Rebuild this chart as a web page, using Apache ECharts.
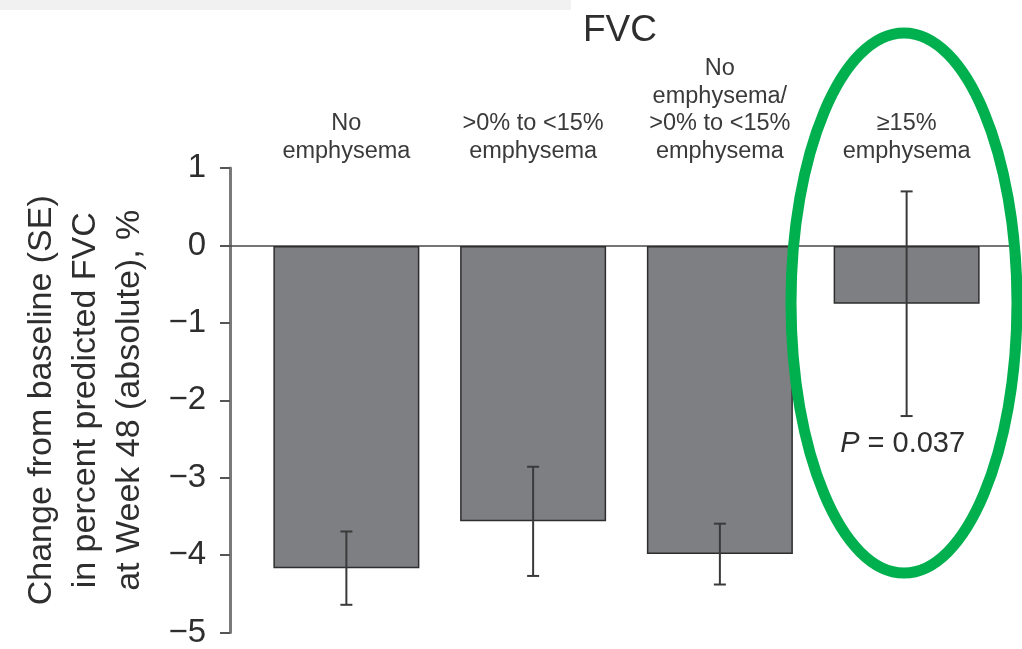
<!DOCTYPE html>
<html>
<head>
<meta charset="utf-8">
<script src="https://cdn.jsdelivr.net/npm/echarts@6/dist/echarts.min.js"></script>
<style>
html,body{margin:0;padding:0;background:#fff;}
#chart{width:1022px;height:649px;}
</style>
</head>
<body>
<div id="chart"></div>
<script>
const categories = [
  'No\nemphysema',
  '>0% to <15%\nemphysema',
  'No\nemphysema/\n>0% to <15%\nemphysema',
  '\u226515%\nemphysema'
];
const meanChange = [-4.13, -3.53, -3.95, -0.74];
const seValues = [0.47, 0.70, 0.39, 1.44];
const pLabels = ['', '', '', '0.037'];
const yTicks = { min: -5, max: 1, interval: 1 };

const chart = echarts.init(document.getElementById('chart'));
const font = 'Liberation Sans, Arial, sans-serif';

const option = {
  backgroundColor: '#fff',
  animation: false,
  title: {
    text: 'FVC',
    left: 615,
    top: 7,
    textAlign: 'center',
    textStyle: { fontFamily: font, fontSize: 37, fontWeight: 'normal', color: '#2e2e2e' }
  },
  grid: [
    { left: 230, right: 12, top: 168, bottom: 13 },
    { left: 253, right: 22, top: 168, bottom: 13 }
  ],
  xAxis: [
    {
      gridIndex: 0, type: 'value', min: 0, max: 1,
      axisLine: { show: true, onZero: true, lineStyle: { color: '#4a4a4a', width: 1.5 } },
      axisTick: { show: false }, axisLabel: { show: false }, splitLine: { show: false }
    },
    {
      gridIndex: 1, type: 'category', data: categories, position: 'top',
      axisLine: { show: false, onZero: false }, axisTick: { show: false },
      axisLabel: {
        fontFamily: font, fontSize: 23.5, lineHeight: 27.5, color: '#3a3a3a', margin: 3,
        interval: 0
      },
      splitLine: { show: false }
    }
  ],
  yAxis: [
    {
      gridIndex: 0, type: 'value', min: yTicks.min, max: yTicks.max, interval: yTicks.interval,
      name: 'Change from baseline (SE)\nin percent predicted FVC\nat Week 48 (absolute), %',
      nameLocation: 'middle', nameRotate: 90, nameGap: 78,
      nameTextStyle: { fontFamily: font, fontSize: 34, lineHeight: 44, color: '#2e2e2e' },
      axisLine: { show: true, lineStyle: { color: '#7a7a7a', width: 3 } },
      axisTick: { show: true, length: 10, lineStyle: { color: '#555', width: 2 } },
      axisLabel: {
        fontFamily: font, fontSize: 33, color: '#2e2e2e', margin: 24,
        formatter: v => String(v).replace('-', '\u2212')
      },
      splitLine: { show: false }
    },
    {
      gridIndex: 1, type: 'value', min: yTicks.min, max: yTicks.max, interval: yTicks.interval,
      show: false
    }
  ],
  series: [
    {
      type: 'bar', xAxisIndex: 1, yAxisIndex: 1,
      data: meanChange, barWidth: 146,
      itemStyle: { color: '#7e7f83', borderColor: '#2e2e2e', borderWidth: 1.5 },
      z: 2
    },
    {
      type: 'custom', xAxisIndex: 1, yAxisIndex: 1, z: 5,
      data: meanChange.map((m, i) => [i, m, seValues[i]]),
      renderItem: function (params, api) {
        const i = api.value(0), m = api.value(1), se = api.value(2);
        const p = pLabels[params.dataIndex];
        const top = api.coord([i, m + se]);
        const bot = api.coord([i, m - se]);
        const hw = 6;
        const st = { stroke: '#3a3a3a', lineWidth: 2 };
        const children = [
          { type: 'line', shape: { x1: top[0], y1: top[1], x2: bot[0], y2: bot[1] }, style: st },
          { type: 'line', shape: { x1: top[0] - hw, y1: top[1], x2: top[0] + hw, y2: top[1] }, style: st },
          { type: 'line', shape: { x1: bot[0] - hw, y1: bot[1], x2: bot[0] + hw, y2: bot[1] }, style: st }
        ];
        if (p) {
          children.push({
            type: 'text',
            style: {
              x: bot[0] - 4, y: bot[1] + 13,
              text: '{i|P} = ' + p,
              align: 'center', verticalAlign: 'top',
              fontFamily: font, fontSize: 29, fill: '#2e2e2e',
              rich: { i: { fontStyle: 'italic', fontFamily: font, fontSize: 29, fill: '#2e2e2e' } }
            }
          });
        }
        return { type: 'group', children: children };
      }
    }
  ],
  graphic: [
    {
      type: 'text', left: 14, top: -22, z: 10,
      style: { text: 'A', fontFamily: font, fontSize: 36, fontWeight: 'bold', fill: '#222' }
    },
    {
      type: 'rect', shape: { x: 0, y: 0, width: 571, height: 10 }, z: 11,
      style: { fill: '#f1f1f1' }
    },
    {
      type: 'ellipse', z: 20,
      shape: { cx: 904, cy: 303, rx: 113, ry: 270 },
      style: { fill: 'none', stroke: '#00b04f', lineWidth: 11 }
    }
  ]
};
chart.setOption(option);
</script>
</body>
</html>
